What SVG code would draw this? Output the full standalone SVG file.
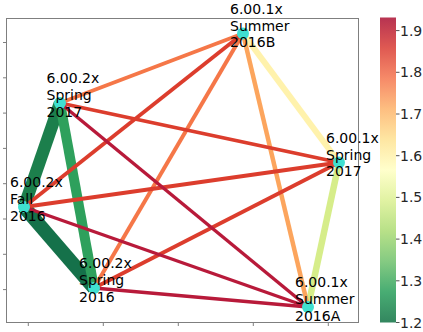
<svg xmlns="http://www.w3.org/2000/svg" width="423" height="332" viewBox="0 0 423 332">
<style>
.lbl{font-family:"DejaVu Sans",sans-serif;font-size:14px;fill:#000}
.tk{font-family:"DejaVu Sans",sans-serif;font-size:14px;fill:#262626}
.frame{fill:none;stroke:#7f7f7f;stroke-width:1}
.tick{stroke:#7f7f7f;stroke-width:1}
.ctick{stroke:#262626;stroke-width:0.8}
.node{fill:#40e0d0}
.e{fill:none;stroke-linecap:butt}
</style>
<defs>
<linearGradient id="cm" x1="0" y1="0" x2="0" y2="1">
<stop offset="0" stop-color="#a50026"/>
<stop offset="0.1" stop-color="#d73027"/>
<stop offset="0.2" stop-color="#f46d43"/>
<stop offset="0.3" stop-color="#fdae61"/>
<stop offset="0.4" stop-color="#fee08b"/>
<stop offset="0.5" stop-color="#ffffbf"/>
<stop offset="0.6" stop-color="#d9ef8b"/>
<stop offset="0.7" stop-color="#a6d96a"/>
<stop offset="0.8" stop-color="#66bd63"/>
<stop offset="0.9" stop-color="#1a9850"/>
<stop offset="1" stop-color="#006837"/>
</linearGradient>
</defs>
<rect width="423" height="332" fill="#fff"/>
<g id="axes">
<rect class="frame" x="6.5" y="18.5" width="352" height="304"/>
<path class="tick" d="M3 42.5H6.5M3 77.8H6.5M3 113.1H6.5M3 148.4H6.5M3 183.7H6.5M3 219H6.5M3 254.3H6.5M3 289.6H6.5"/>
<path class="tick" d="M28.3 322.5V326M103.3 322.5V326M178.3 322.5V326M253.3 322.5V326M328.3 322.5V326"/>
</g>
<g id="connectors">
<line id="e-DE" class="e" x1="24" y1="207" x2="94" y2="288" stroke="#15714a" stroke-width="14"/>
<line id="e-AD" class="e" x1="60" y1="103" x2="24" y2="207" stroke="#1c7f4c" stroke-width="12.5"/>
<line id="e-AE" class="e" x1="60" y1="103" x2="94" y2="288" stroke="#2ea05c" stroke-width="10"/>
<line id="e-CF" class="e" x1="339" y1="162.5" x2="308" y2="307" stroke="#d6ed8a" stroke-width="6.5"/>
<line id="e-BC" class="e" x1="243" y1="33.5" x2="339" y2="162.5" stroke="#fff2ac" stroke-width="6"/>
<line id="e-BF" class="e" x1="243" y1="33.5" x2="308" y2="307" stroke="#fca55d" stroke-width="4.5"/>
<line id="e-AB" class="e" x1="60" y1="103" x2="243" y2="33.5" stroke="#f57748" stroke-width="4"/>
<line id="e-BE" class="e" x1="243" y1="33.5" x2="94" y2="288" stroke="#f57748" stroke-width="4"/>
<line id="e-BD" class="e" x1="243" y1="33.5" x2="24" y2="207" stroke="#dc3d2d" stroke-width="3.8"/>
<line id="e-AC" class="e" x1="60" y1="103" x2="339" y2="162.5" stroke="#dc3d2d" stroke-width="3.8"/>
<line id="e-CD" class="e" x1="339" y1="162.5" x2="24" y2="207" stroke="#dc3d2d" stroke-width="3.8"/>
<line id="e-CE" class="e" x1="339" y1="162.5" x2="94" y2="288" stroke="#dc3d2d" stroke-width="3.8"/>
<line id="e-AF" class="e" x1="60" y1="103" x2="308" y2="307" stroke="#b81a3a" stroke-width="3.4"/>
<line id="e-DF" class="e" x1="24" y1="207" x2="308" y2="307" stroke="#b81a3a" stroke-width="3.4"/>
<line id="e-EF" class="e" x1="94" y1="288" x2="308" y2="307" stroke="#b81a3a" stroke-width="3.4"/>
</g>
<g id="node-A">
<circle class="node" cx="60" cy="103" r="6"/>
<text class="lbl" x="46.5" y="83.2">6.00.2x</text>
<text class="lbl" x="46.5" y="100">Spring</text>
<text class="lbl" x="46.5" y="116.8">2017</text>
</g>
<g id="node-B">
<circle class="node" cx="243" cy="33.5" r="6"/>
<text class="lbl" x="230" y="13.7">6.00.1x</text>
<text class="lbl" x="230" y="30.5">Summer</text>
<text class="lbl" x="230" y="47.3">2016B</text>
</g>
<g id="node-C">
<circle class="node" cx="339" cy="162.5" r="6"/>
<text class="lbl" x="326" y="142.7">6.00.1x</text>
<text class="lbl" x="326" y="159.5">Spring</text>
<text class="lbl" x="326" y="176.3">2017</text>
</g>
<g id="node-D">
<circle class="node" cx="24" cy="207" r="6"/>
<text class="lbl" x="10" y="187.2">6.00.2x</text>
<text class="lbl" x="10" y="204">Fall</text>
<text class="lbl" x="10" y="220.8">2016</text>
</g>
<g id="node-E">
<circle class="node" cx="94" cy="288" r="6"/>
<text class="lbl" x="79" y="268.2">6.00.2x</text>
<text class="lbl" x="79" y="285">Spring</text>
<text class="lbl" x="79" y="301.8">2016</text>
</g>
<g id="node-F">
<circle class="node" cx="308" cy="307" r="6"/>
<text class="lbl" x="295" y="287.2">6.00.1x</text>
<text class="lbl" x="295" y="304">Summer</text>
<text class="lbl" x="295" y="320.8">2016A</text>
</g>
<g id="colorbar">
<rect x="380" y="17.5" width="16" height="305" fill="url(#cm)" opacity="0.8"/>
<path class="ctick" d="M396 30.6H399.5M396 72.3H399.5M396 114H399.5M396 155.7H399.5M396 197.4H399.5M396 239.1H399.5M396 280.8H399.5M396 322.5H399.5"/>
<text class="tk" x="400" y="35.6">1.9</text>
<text class="tk" x="400" y="77.3">1.8</text>
<text class="tk" x="400" y="119">1.7</text>
<text class="tk" x="400" y="160.7">1.6</text>
<text class="tk" x="400" y="202.4">1.5</text>
<text class="tk" x="400" y="244.1">1.4</text>
<text class="tk" x="400" y="285.8">1.3</text>
<text class="tk" x="400" y="327.5">1.2</text>
</g>
</svg>
